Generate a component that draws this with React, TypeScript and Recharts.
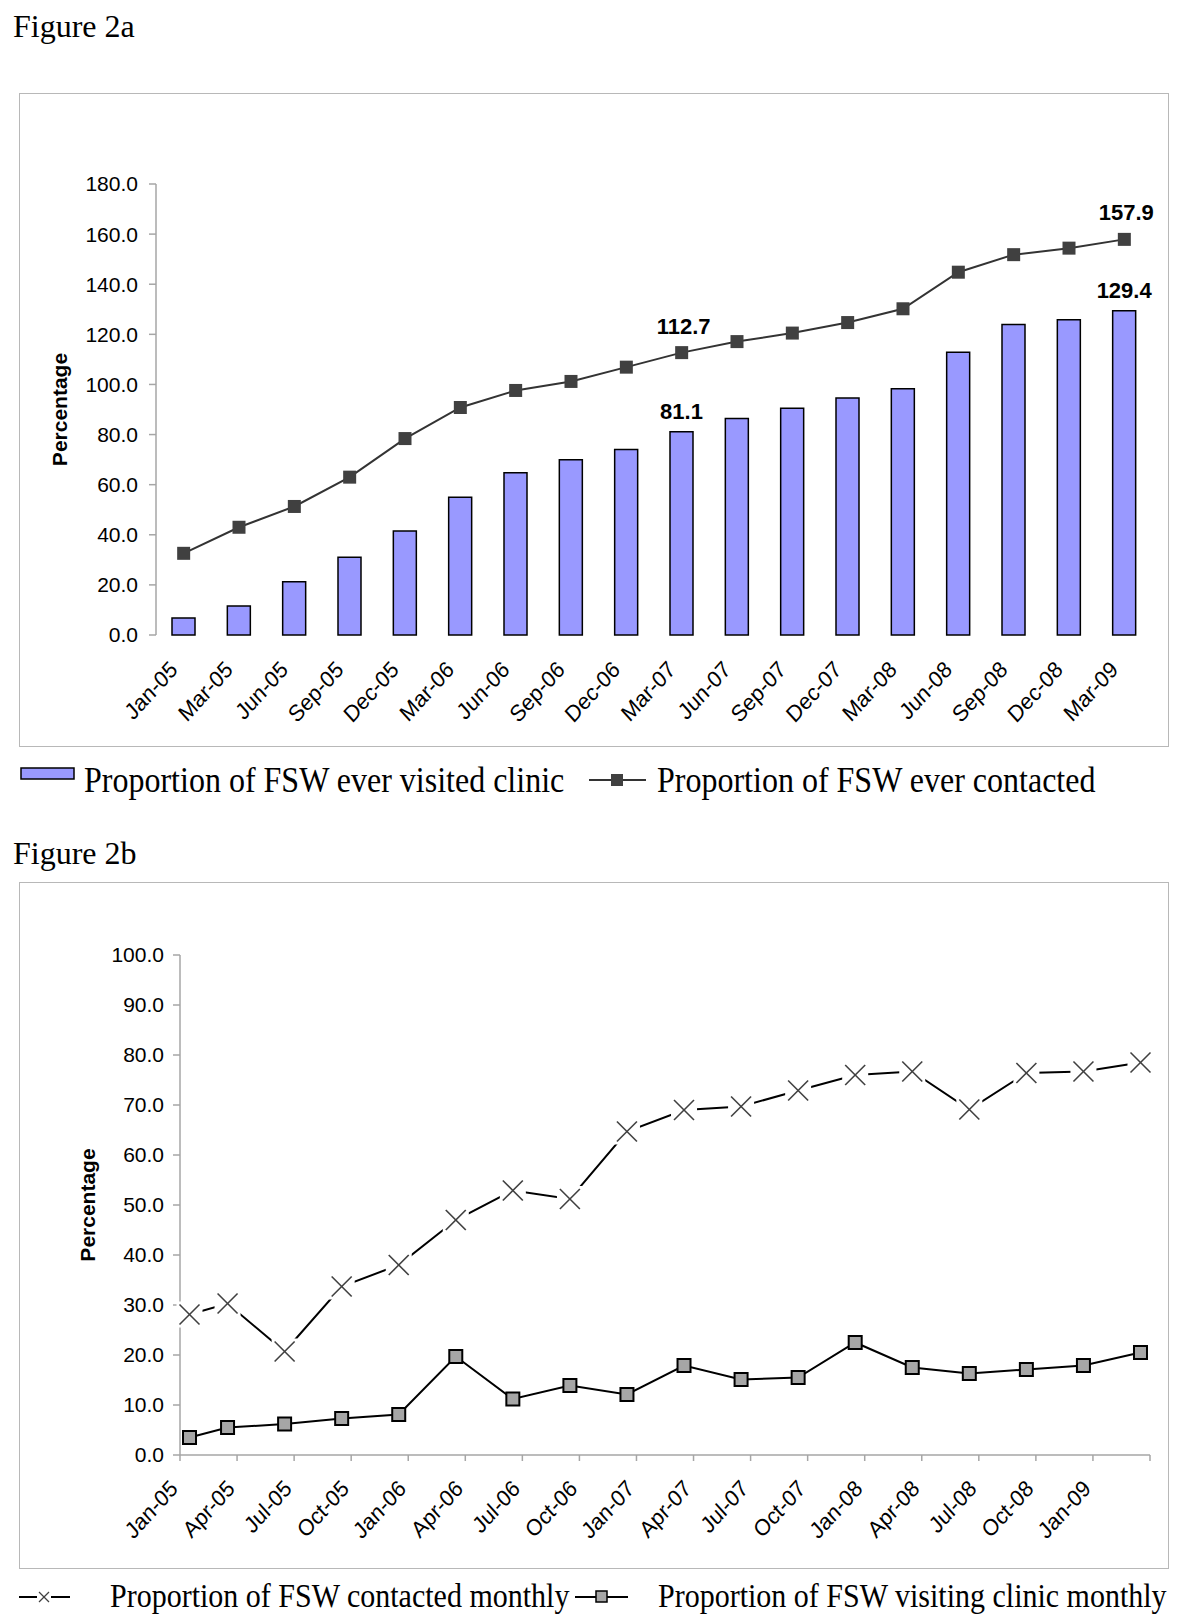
import React from 'react';
import { ComposedChart, LineChart, Bar, Line, XAxis, YAxis, LabelList } from 'recharts';

// Figure 2a: cumulative proportions, quarterly
const quarters2a = ['Jan-05', 'Mar-05', 'Jun-05', 'Sep-05', 'Dec-05', 'Mar-06', 'Jun-06', 'Sep-06', 'Dec-06', 'Mar-07', 'Jun-07', 'Sep-07', 'Dec-07', 'Mar-08', 'Jun-08', 'Sep-08', 'Dec-08', 'Mar-09'];
const everVisited = [6.8, 11.6, 21.3, 31.0, 41.5, 55.0, 64.8, 69.9, 74.0, 81.1, 86.4, 90.5, 94.6, 98.3, 112.8, 123.9, 125.8, 129.4];
const everContacted = [32.6, 43.0, 51.3, 63.0, 78.4, 90.8, 97.6, 101.2, 106.9, 112.7, 117.1, 120.5, 124.7, 130.2, 144.8, 151.8, 154.4, 157.9];
const labelled2a = ['Mar-07', 'Mar-09'];
const yTicks2a = [0, 20, 40, 60, 80, 100, 120, 140, 160, 180];
const edgeTicks2a = quarters2a.map((_, i) => i).concat([quarters2a.length]);

// Figure 2b: monthly proportions (month index from Jan-05, sampled mid-month)
const surveyMonth = [0, 2, 5, 8, 11, 14, 17, 20, 23, 26, 29, 32, 35, 38, 41, 44, 47, 50];
const contactedMonthly = [28.1, 30.3, 20.7, 33.7, 38.0, 47.0, 52.9, 51.2, 64.7, 69.0, 69.7, 72.9, 76.0, 76.7, 69.1, 76.4, 76.7, 78.5];
const visitingMonthly = [3.5, 5.5, 6.2, 7.3, 8.1, 19.7, 11.2, 13.9, 12.1, 17.9, 15.1, 15.5, 22.5, 17.5, 16.3, 17.1, 17.9, 20.5];
const tickLabels2b = ['Jan-05', 'Apr-05', 'Jul-05', 'Oct-05', 'Jan-06', 'Apr-06', 'Jul-06', 'Oct-06', 'Jan-07', 'Apr-07', 'Jul-07', 'Oct-07', 'Jan-08', 'Apr-08', 'Jul-08', 'Oct-08', 'Jan-09'];
const monthTicks2b = tickLabels2b.map((_, i) => i * 3).concat([51]);
const yTicks2b = [0, 10, 20, 30, 40, 50, 60, 70, 80, 90, 100];

const SERIES_A1 = 'Proportion of FSW ever visited clinic';
const SERIES_A2 = 'Proportion of FSW ever contacted';
const SERIES_B1 = 'Proportion of FSW contacted monthly';
const SERIES_B2 = 'Proportion of FSW visiting clinic monthly';

const SANS = '"Liberation Sans", Arial, sans-serif';
const SERIF = '"Liberation Serif", "Times New Roman", serif';
const AXIS = '#a6a6a6';

const rows2a = quarters2a.map((label, i) => ({ label, visited: everVisited[i], contacted: everContacted[i] }));
const rows2b = surveyMonth.map((m, i) => ({ month: m + 0.5, contacted: contactedMonthly[i], visiting: visitingMonthly[i] }));

// rotated category labels; the source image is a little stretched vertically
const RotTick = ({ x, y, payload, dx = 0, dy = 0, fmt }: any) => {
  const tx = x + dx;
  const ty = y + dy;
  const text = fmt ? fmt(payload.value) : payload.value;
  if (!text) return null;
  return (
    <text x={0} y={0} transform={`translate(${tx} ${ty}) scale(1 1.1) rotate(-45)`} textAnchor="end" fontFamily={SANS} fontSize={21} fill="#000">
      {text}
    </text>
  );
};

const YLabel = ({ viewBox, dx }: any) => {
  const cx = viewBox.x + dx;
  const cy = viewBox.y + viewBox.height / 2;
  return (
    <text x={cx} y={cy} transform={`rotate(-90 ${cx} ${cy})`} textAnchor="middle" dominantBaseline="central" fontFamily={SANS} fontWeight="bold" fontSize={21} fill="#000">
      Percentage
    </text>
  );
};

const ValueLabel = (gap: number, shift = 0) => (props: any) => {
  const { index, value } = props;
  if (!labelled2a.includes(quarters2a[index])) return null;
  const vb = props.viewBox ?? props;
  const cx = vb.x + (vb.width || 0) / 2 + shift;
  return (
    <text x={cx} y={vb.y - gap} textAnchor="middle" fontFamily={SANS} fontWeight="bold" fontSize={22} fill="#000">
      {Number(value).toFixed(1)}
    </text>
  );
};

const DarkSquare = (p: any) => (
  <rect key={`ds-${p.index}`} x={p.cx - 6.5} y={p.cy - 6.5} width={13} height={13} fill="#404040" />
);

const GraySquare = (p: any) => (
  <rect key={`gs-${p.index}`} x={p.cx - 6.5} y={p.cy - 6.5} width={13} height={13} fill="#a6a6a6" stroke="#000" strokeWidth={2} />
);

const XMark = (p: any) => (
  <g key={`xm-${p.index}`}>
    <rect x={p.cx - 13} y={p.cy - 13} width={26} height={26} fill="#fff" />
    <line x1={p.cx - 10} y1={p.cy - 10} x2={p.cx + 10} y2={p.cy + 10} stroke="#404040" strokeWidth={1.6} />
    <line x1={p.cx - 10} y1={p.cy + 10} x2={p.cx + 10} y2={p.cy - 10} stroke="#404040" strokeWidth={1.6} />
  </g>
);

const abs = (left: number, top: number, extra: React.CSSProperties = {}): React.CSSProperties => ({
  position: 'absolute', left, top, ...extra,
});

const LegendText = ({ left, top, size, children }: any) => (
  <div style={abs(left, top, {
    fontFamily: SERIF, fontSize: size, lineHeight: 1, whiteSpace: 'nowrap', color: '#000',
    transform: 'scaleY(1.1)', transformOrigin: 'left top',
  })}>{children}</div>
);

export default function App() {
  return (
    <div style={{ position: 'absolute', left: 0, top: 0, width: 1200, height: 1621, background: '#fff', overflow: 'hidden' }}>
      {/* Figure 2a */}
      <div style={abs(13, 10, { fontFamily: SERIF, fontSize: 32, lineHeight: 1 })}>Figure 2a</div>
      <div style={abs(19, 93, { width: 1150, height: 654, border: '1.5px solid #b8b8b8', boxSizing: 'border-box' })} />
      <div style={abs(0, 0)}>
        <ComposedChart width={1200} height={820} data={rows2a} margin={{ top: 184, right: 48, left: 0, bottom: 85 }}>
          <XAxis xAxisId="edge" type="number" domain={[0, 18]} ticks={edgeTicks2a} tick={false} tickSize={6} stroke={AXIS} strokeWidth={1.5} height={0} allowDataOverflow />
          <XAxis xAxisId="cat" dataKey="label" axisLine={false} tickLine={false} interval={0} height={100} tick={<RotTick dx={-5} dy={28} />} />
          <YAxis domain={[0, 180]} ticks={yTicks2a} width={156} tickSize={7} tickMargin={11} stroke={AXIS} strokeWidth={1.5}
            tick={{ fill: '#000', fontFamily: SANS, fontSize: 21 }} tickFormatter={(v: number) => v.toFixed(1)}
            label={<YLabel dx={59} />} />
          <Bar xAxisId="cat" dataKey="visited" name={SERIES_A1} barSize={23} fill="#9999ff" stroke="#000" strokeWidth={1.5} isAnimationActive={false}>
            <LabelList dataKey="visited" content={ValueLabel(13)} />
          </Bar>
          <Line xAxisId="cat" dataKey="contacted" name={SERIES_A2} stroke="#333" strokeWidth={2} dot={DarkSquare} activeDot={false} isAnimationActive={false}>
            <LabelList dataKey="contacted" content={ValueLabel(19, 2)} />
          </Line>
        </ComposedChart>
      </div>
      {/* legend 2a */}
      <svg style={abs(0, 760)} width={660} height={40}>
        <rect x={21} y={8} width={53} height={11} fill="#9999ff" stroke="#000" strokeWidth={1.5} />
        <line x1={589} y1={20} x2={646} y2={20} stroke="#333" strokeWidth={2} />
        <rect x={611} y={14} width={12} height={12} fill="#404040" />
      </svg>
      <LegendText left={84} top={762} size={32}>{SERIES_A1}</LegendText>
      <LegendText left={657} top={762} size={32}>{SERIES_A2}</LegendText>

      {/* Figure 2b */}
      <div style={abs(13, 837, { fontFamily: SERIF, fontSize: 32, lineHeight: 1 })}>Figure 2b</div>
      <div style={abs(19, 882, { width: 1150, height: 687, border: '1.5px solid #b8b8b8', boxSizing: 'border-box' })} />
      <div style={abs(0, 820)}>
        <LineChart width={1200} height={800} data={rows2b} margin={{ top: 135, right: 50, left: 0, bottom: 65 }}>
          <XAxis dataKey="month" type="number" domain={[0, 51]} ticks={monthTicks2b} interval={0} height={100} tickSize={6} stroke={AXIS} strokeWidth={1.5}
            tick={<RotTick dx={-1} dy={27} fmt={(v: number) => tickLabels2b[v / 3] ?? ''} />} />
          <YAxis domain={[0, 100]} ticks={yTicks2b} width={180} tickSize={7} tickMargin={9} stroke={AXIS} strokeWidth={1.5}
            tick={{ fill: '#000', fontFamily: SANS, fontSize: 21 }} tickFormatter={(v: number) => v.toFixed(1)}
            label={<YLabel dx={87} />} />
          <Line dataKey="contacted" name={SERIES_B1} stroke="#000" strokeWidth={2} dot={XMark} activeDot={false} isAnimationActive={false} />
          <Line dataKey="visiting" name={SERIES_B2} stroke="#000" strokeWidth={2} dot={GraySquare} activeDot={false} isAnimationActive={false} />
        </LineChart>
      </div>
      {/* legend 2b */}
      <svg style={abs(0, 1580)} width={660} height={36}>
        <line x1={19} y1={17} x2={70} y2={17} stroke="#000" strokeWidth={2} />
        <rect x={37} y={10} width={14} height={14} fill="#fff" />
        <line x1={39} y1={12} x2={49} y2={22} stroke="#404040" strokeWidth={1.3} />
        <line x1={39} y1={22} x2={49} y2={12} stroke="#404040" strokeWidth={1.3} />
        <line x1={575} y1={17} x2={628} y2={17} stroke="#000" strokeWidth={2} />
        <rect x={596} y={11} width={11} height={11} fill="#a6a6a6" stroke="#000" strokeWidth={1.5} />
      </svg>
      <LegendText left={110} top={1579} size={30}>{SERIES_B1}</LegendText>
      <LegendText left={658} top={1579} size={30}>{SERIES_B2}</LegendText>
    </div>
  );
}
